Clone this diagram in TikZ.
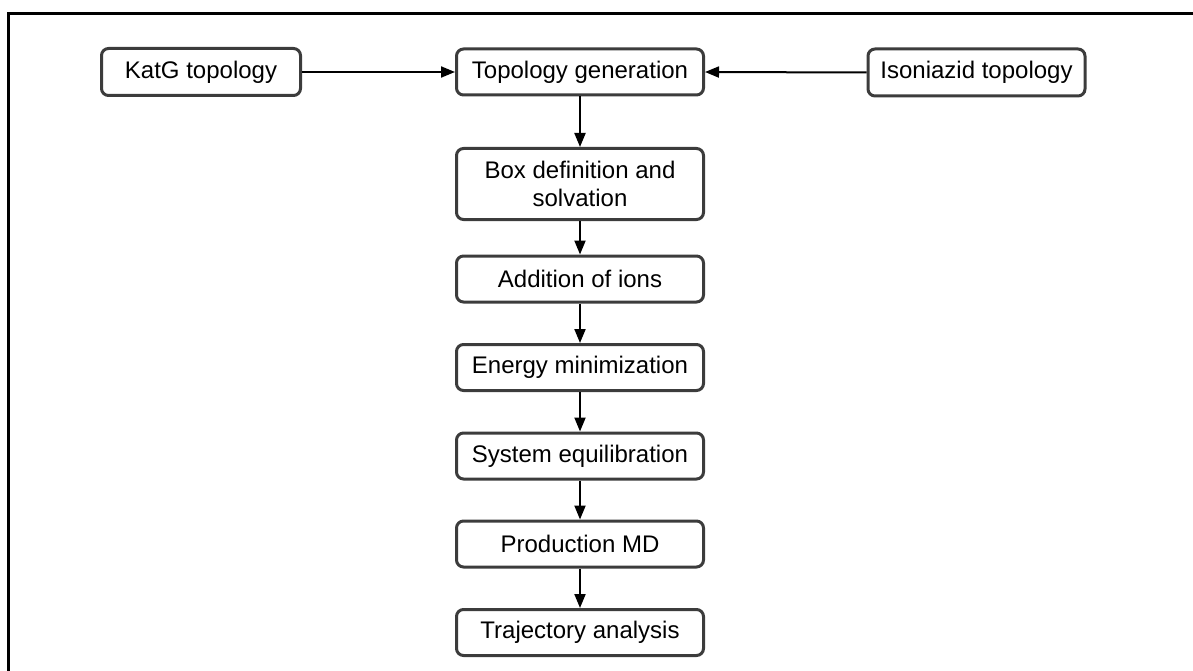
\documentclass[tikz,border=0pt]{standalone}
\usepackage{fontspec}
\setmainfont{Liberation Sans}
\usetikzlibrary{arrows.meta}
\definecolor{boxgray}{HTML}{3C3C3C}
\begin{document}
\begin{tikzpicture}[x=1pt,y=-1pt,
  box/.style={draw=boxgray, line width=3pt, rounded corners=7pt, fill=white,
    minimum width=247pt, minimum height=46pt, inner sep=0pt, align=center,
    font=\fontsize{24}{28.5}\selectfont},
  arr/.style={-{Triangle[length=14pt,width=11pt]}, line width=2pt}]
\useasboundingbox (0,0) rectangle (1193,671);
\draw[line width=3pt] (8.5,671) -- (8.5,14) -- (1193,14);
\node[box, minimum width=199pt, minimum height=47pt] (katg) at (201,72) {KatG topology};
\node[box] (topo) at (580,72) {Topology generation};
\node[box, minimum width=217pt, minimum height=47pt] (iso) at (976.5,72.5) {Isoniazid topology};
\node[box, minimum height=71pt] (boxdef) at (580,184) {Box definition and\\solvation};
\node[box] (ions) at (580,279) {Addition of ions};
\node[box] (energy) at (580,367.5) {Energy minimization};
\node[box] (equil) at (580,456) {System equilibration};
\node[box] (prod) at (580,544) {Production MD};
\node[box] (traj) at (580,632.5) {Trajectory analysis};
\draw[arr] (katg.east) -- (topo.west);
\draw[arr] (iso.west) -- (topo.east);
\draw[arr] (topo) -- (boxdef);
\draw[arr] (boxdef) -- (ions);
\draw[arr] (ions) -- (energy);
\draw[arr] (energy) -- (equil);
\draw[arr] (equil) -- (prod);
\draw[arr] (prod) -- (traj);
\end{tikzpicture}
\end{document}
